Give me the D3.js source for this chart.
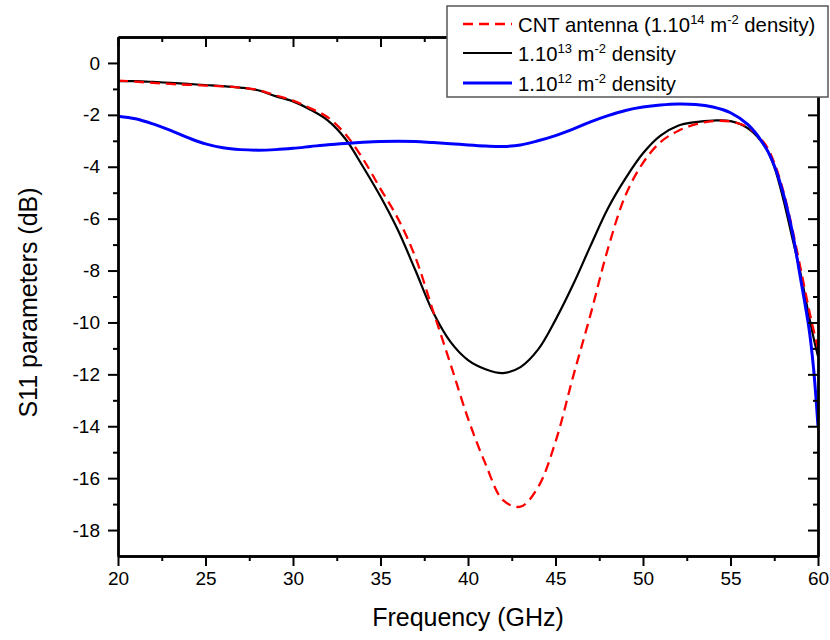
<!DOCTYPE html>
<html>
<head>
<meta charset="utf-8">
<script src="https://cdn.jsdelivr.net/npm/d3@7"></script>
<style>
  html, body { margin: 0; padding: 0; background: #fff; }
  svg { display: block; font-family: "Liberation Sans", Arial, sans-serif; }
</style>
</head>
<body>
<svg id="chart" width="830" height="640"></svg>
<script>
// Frequency sweep (GHz)
const freq = [20,21,22,23,24,25,26,27,28,29,30,31,32,33,34,35,36,37,38,39,40,
              41,42,43,44,45,46,47,48,49,50,51,52,53,54,55,56,57,57.5,58,58.5,
              59,59.5,59.75,60];

// S11 (dB), CNT antenna, 1e14 m^-2
const s11_1e14 = [-0.68,-0.72,-0.77,-0.81,-0.84,-0.87,-0.90,-0.95,-1.04,-1.25,-1.45,
                  -1.75,-2.10,-2.75,-3.70,-4.85,-6.00,-7.50,-9.55,-11.60,-13.70,
                  -15.45,-16.85,-17.10,-16.35,-14.60,-12.10,-9.70,-7.15,-5.10,-3.85,
                  -3.05,-2.62,-2.37,-2.24,-2.26,-2.48,-3.15,-3.85,-4.90,-6.30,
                  -7.90,-9.55,-10.30,-11.00];

// S11 (dB), 1e13 m^-2
const s11_1e13 = [-0.70,-0.70,-0.73,-0.77,-0.81,-0.85,-0.89,-0.95,-1.05,-1.28,-1.48,
                  -1.80,-2.22,-2.93,-4.00,-5.15,-6.45,-8.00,-9.60,-10.75,-11.45,
                  -11.80,-11.95,-11.72,-11.05,-9.90,-8.55,-7.05,-5.60,-4.45,-3.48,
                  -2.80,-2.42,-2.28,-2.22,-2.24,-2.52,-3.25,-4.00,-5.20,-6.65,
                  -8.10,-9.80,-10.60,-11.30];

// S11 (dB), 1e12 m^-2
const s11_1e12 = [-2.05,-2.15,-2.35,-2.60,-2.88,-3.12,-3.27,-3.34,-3.36,-3.34,-3.29,
                  -3.22,-3.15,-3.10,-3.06,-3.03,-3.02,-3.03,-3.07,-3.11,-3.16,
                  -3.20,-3.22,-3.16,-3.00,-2.80,-2.55,-2.27,-2.03,-1.83,-1.70,
                  -1.62,-1.58,-1.60,-1.70,-1.92,-2.38,-3.25,-3.95,-5.00,-6.40,
                  -8.30,-10.30,-11.80,-14.00];

const xMajor = [20,25,30,35,40,45,50,55,60];
const xMinor = [22.5,27.5,32.5,37.5,42.5,47.5,52.5,57.5];
const yMajor = [0,-2,-4,-6,-8,-10,-12,-14,-16,-18];
const yMinor = [-1,-3,-5,-7,-9,-11,-13,-15,-17];

const seriesNames = ["CNT antenna (1.10|14| m|-2| density)", "1.10|13| m|-2| density", "1.10|12| m|-2| density"];
const seriesColors = ["#ff0000", "#000000", "#0000ff"];

const svg = d3.select("#chart");
const plotLeft = 118, plotRight = 818, plotTop = 37, plotBottom = 556;

const x = d3.scaleLinear().domain([20, 60]).range([plotLeft, plotRight]);
const y = d3.scaleLinear().domain([-19, 1]).range([plotBottom, plotTop]);

// Data curves
const series = [
  { values: s11_1e14, color: seriesColors[0], width: 2.3, dash: "10,6" },
  { values: s11_1e13, color: seriesColors[1], width: 2.2, dash: null },
  { values: s11_1e12, color: seriesColors[2], width: 3, dash: null }
];

svg.append("clipPath").attr("id", "plotClip")
  .append("rect").attr("x", plotLeft).attr("y", plotTop)
  .attr("width", plotRight - plotLeft).attr("height", plotBottom - plotTop);

const line = d3.line().curve(d3.curveCatmullRom.alpha(0.5));
const drawOrder = [1, 0, 2];
drawOrder.forEach(i => {
  const s = series[i];
  svg.append("path")
    .attr("clip-path", "url(#plotClip)")
    .attr("d", line(freq.map((f, k) => [x(f), y(s.values[k])])))
    .attr("fill", "none")
    .attr("stroke", s.color)
    .attr("stroke-width", s.width)
    .attr("stroke-dasharray", s.dash);
});

// Frame and ticks
function styleAxis(g) {
  g.select(".domain").attr("stroke", "#000").attr("stroke-width", 2.4);
  g.selectAll(".tick line").attr("stroke", "#000").attr("stroke-width", 2);
  g.selectAll(".tick text").attr("fill", "#000")
    .style("font-size", "19px").style("font-family", "'Liberation Sans', Arial, sans-serif");
}
const fmt = d => String(d);

svg.append("g").attr("transform", `translate(0,${plotBottom})`)
  .call(d3.axisBottom(x).tickValues(xMajor).tickFormat(fmt).tickSize(10).tickSizeOuter(0).tickPadding(6))
  .call(styleAxis);
svg.append("g").attr("transform", `translate(0,${plotBottom})`)
  .call(d3.axisBottom(x).tickValues(xMinor).tickFormat("").tickSize(5).tickSizeOuter(0))
  .call(styleAxis);

svg.append("g").attr("transform", `translate(${plotLeft},0)`)
  .call(d3.axisLeft(y).tickValues(yMajor).tickFormat(fmt).tickSize(10).tickSizeOuter(0).tickPadding(8))
  .call(styleAxis);
svg.append("g").attr("transform", `translate(${plotLeft},0)`)
  .call(d3.axisLeft(y).tickValues(yMinor).tickFormat("").tickSize(5).tickSizeOuter(0))
  .call(styleAxis);

// Top and right edges with inward ticks
svg.append("g").attr("transform", `translate(0,${plotTop})`)
  .call(d3.axisBottom(x).tickValues(xMajor).tickFormat("").tickSize(10).tickSizeOuter(0))
  .call(styleAxis);
svg.append("g").attr("transform", `translate(0,${plotTop})`)
  .call(d3.axisBottom(x).tickValues(xMinor).tickFormat("").tickSize(5).tickSizeOuter(0))
  .call(styleAxis);
svg.append("g").attr("transform", `translate(${plotRight},0)`)
  .call(d3.axisLeft(y).tickValues(yMajor).tickFormat("").tickSize(10).tickSizeOuter(0))
  .call(styleAxis);
svg.append("g").attr("transform", `translate(${plotRight},0)`)
  .call(d3.axisLeft(y).tickValues(yMinor).tickFormat("").tickSize(5).tickSizeOuter(0))
  .call(styleAxis);

// Axis titles
svg.append("text")
  .attr("x", (plotLeft + plotRight) / 2).attr("y", 626)
  .attr("text-anchor", "middle")
  .style("font-size", "25px")
  .text("Frequency (GHz)");

svg.append("text")
  .attr("transform", `translate(37,${(plotTop + plotBottom) / 2 + 6}) rotate(-90)`)
  .attr("text-anchor", "middle")
  .style("font-size", "25px")
  .text("S11 parameters (dB)");

// Legend
const legend = svg.append("g");
legend.append("rect")
  .attr("x", 447).attr("y", 6).attr("width", 381).attr("height", 91)
  .attr("fill", "#fff").attr("stroke", "#555").attr("stroke-width", 1.5);

const rowY = [24, 53, 83];
series.forEach((s, i) => {
  legend.append("line")
    .attr("x1", 463).attr("x2", 512)
    .attr("y1", rowY[i]).attr("y2", rowY[i])
    .attr("stroke", s.color).attr("stroke-width", s.width)
    .attr("stroke-dasharray", s.dash);
  const t = legend.append("text")
    .attr("x", 518).attr("y", rowY[i] + 8)
    .style("font-size", "20.3px");
  // parts alternate normal / superscript
  seriesNames[i].split("|").forEach((part, k) => {
    const sup = k % 2 === 1;
    t.append("tspan")
      .attr("dy", sup ? -8 : (k === 0 ? 0 : 8))
      .style("font-size", sup ? "13px" : "20.3px")
      .text(part);
  });
});
</script>
</body>
</html>
